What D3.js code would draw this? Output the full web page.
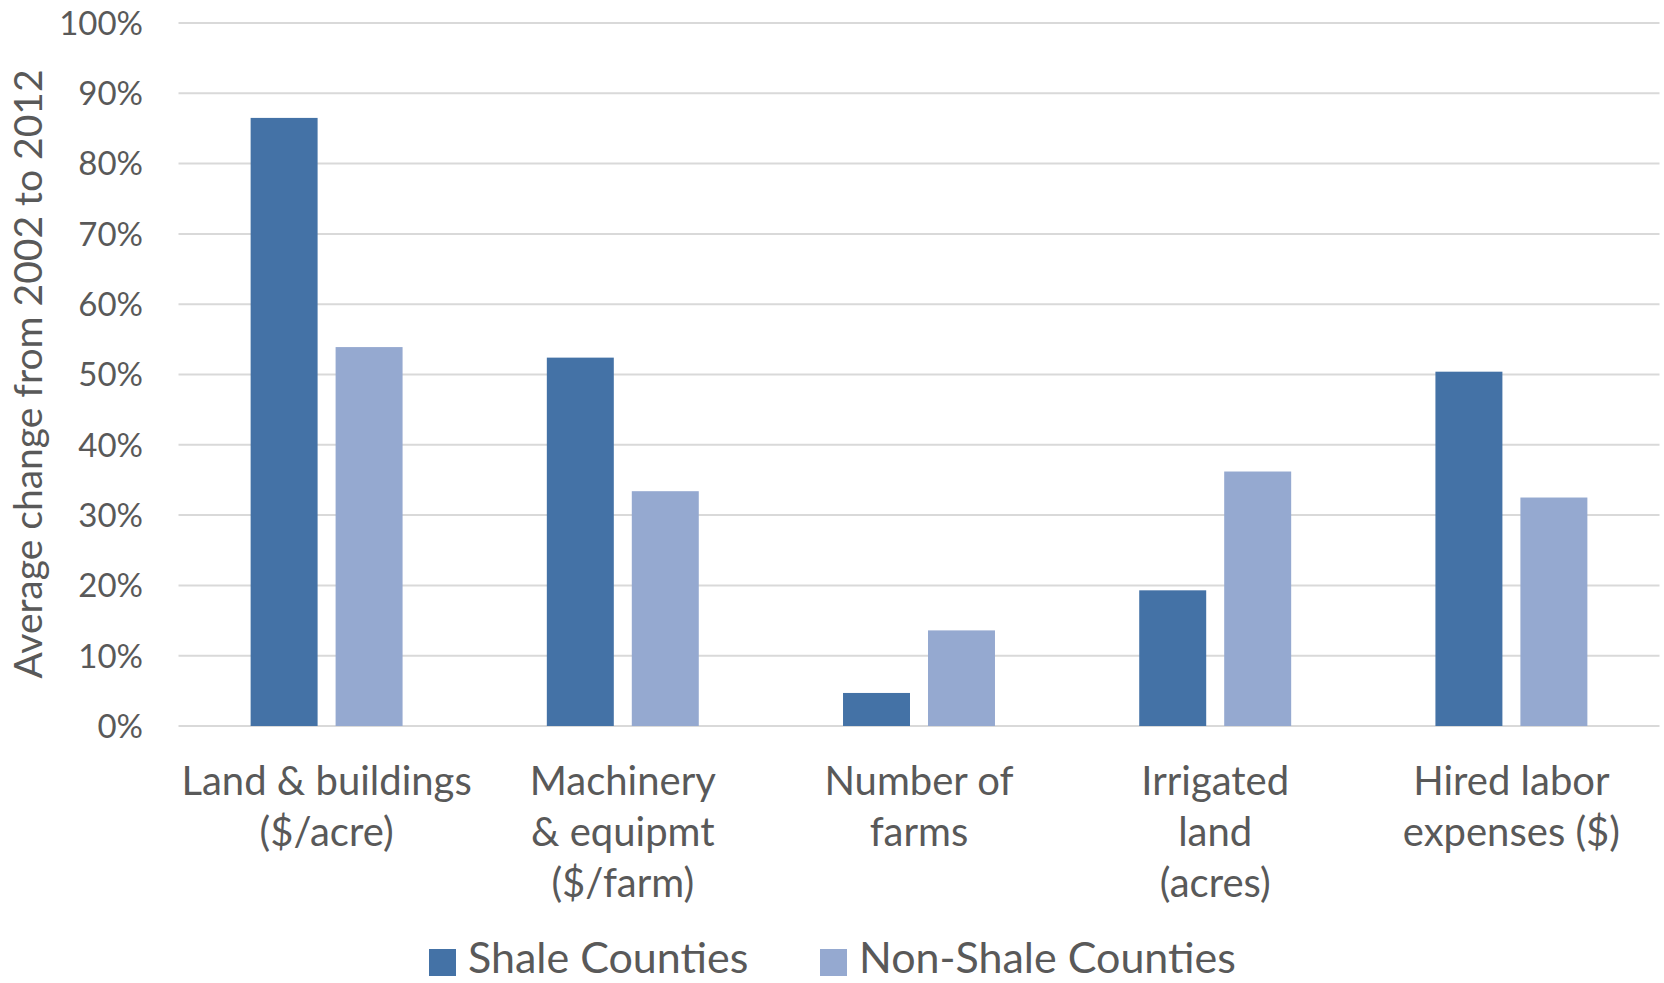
<!DOCTYPE html>
<html>
<head>
<meta charset="utf-8">
<script src="https://cdn.jsdelivr.net/npm/d3@7"></script>
<style>
  html, body { margin: 0; padding: 0; background: #fff; }
  svg { display: block; }
  text { font-family: Lato, "Open Sans", sans-serif; fill: #595959; }
</style>
</head>
<body>
<svg id="chart" width="1664" height="983"></svg>
<script>
// Farm indicators, average percentage change 2002–2012
const categories = [
  ["Land & buildings", "($/acre)"],
  ["Machinery", "& equipmt", "($/farm)"],
  ["Number of", "farms"],
  ["Irrigated", "land", "(acres)"],
  ["Hired labor", "expenses ($)"]
];
const seriesNames = ["Shale Counties", "Non-Shale Counties"];
const shaleValues = [86.5, 52.4, 4.7, 19.3, 50.4];
const nonShaleValues = [53.9, 33.4, 13.6, 36.2, 32.5];
const yTicks = [0, 10, 20, 30, 40, 50, 60, 70, 80, 90, 100];
const colors = ["#4472a6", "#95a9d0"];
const yTitle = "Average change from 2002 to 2012";

const svg = d3.select("#chart");
const margin = { left: 178.5, right: 4.5, top: 23, bottom: 257 };
const W = 1664, H = 983;

const x = d3.scaleBand()
  .domain(d3.range(categories.length))
  .range([margin.left, W - margin.right])
  .paddingInner(0.487)
  .paddingOuter(0.2435);
const x1 = d3.scaleBand()
  .domain([0, 1])
  .range([0, x.bandwidth()])
  .paddingInner(0.2118);
const y = d3.scaleLinear().domain([0, 100]).range([H - margin.bottom, margin.top]);

// horizontal gridlines
svg.append("g")
  .selectAll("line")
  .data(yTicks)
  .join("line")
  .attr("x1", margin.left)
  .attr("x2", W - margin.right)
  .attr("y1", d => y(d))
  .attr("y2", d => y(d))
  .attr("stroke", "#d9d9d9")
  .attr("stroke-width", 2);

// y tick labels
svg.append("g")
  .selectAll("text")
  .data(yTicks)
  .join("text")
  .attr("x", 143)
  .attr("y", d => y(d))
  .attr("dy", "0.36em")
  .attr("text-anchor", "end")
  .attr("font-size", 33)
  .text(d => d + "%");

// y axis title
svg.append("text")
  .attr("transform", `translate(42,${374}) rotate(-90)`)
  .attr("text-anchor", "middle")
  .attr("font-size", 39)
  .text(yTitle);

// bars
const rows = categories.map((c, i) => [shaleValues[i], nonShaleValues[i]]);
const groups = svg.append("g")
  .selectAll("g")
  .data(rows)
  .join("g")
  .attr("transform", (d, i) => `translate(${x(i)},0)`);
groups.selectAll("rect")
  .data(d => d.map((v, s) => ({ v, s })))
  .join("rect")
  .attr("x", d => x1(d.s))
  .attr("width", x1.bandwidth())
  .attr("y", d => y(d.v))
  .attr("height", d => y(0) - y(d.v))
  .attr("fill", d => colors[d.s]);

// category labels
const labels = svg.append("g")
  .selectAll("text")
  .data(categories)
  .join("text")
  .attr("text-anchor", "middle")
  .attr("font-size", 40)
  .attr("x", (d, i) => x(i) + x.bandwidth() / 2)
  .attr("y", 785);
labels.selectAll("tspan")
  .data(d => d)
  .join("tspan")
  .attr("x", function () { return this.parentNode.getAttribute("x"); })
  .attr("dy", (d, i) => i === 0 ? "0" : 51)
  .attr("dominant-baseline", "middle")
  .text(d => d);

// legend
const legendItems = [
  { name: seriesNames[0], color: colors[0], sx: 429 },
  { name: seriesNames[1], color: colors[1], sx: 820 }
];
const lg = svg.append("g")
  .selectAll("g")
  .data(legendItems)
  .join("g");
lg.append("rect")
  .attr("x", d => d.sx)
  .attr("y", 949)
  .attr("width", 27)
  .attr("height", 27)
  .attr("fill", d => d.color);
lg.append("text")
  .attr("x", d => d.sx + 39)
  .attr("y", 973)
  .attr("font-size", 43)
  .text(d => d.name);
</script>
</body>
</html>
